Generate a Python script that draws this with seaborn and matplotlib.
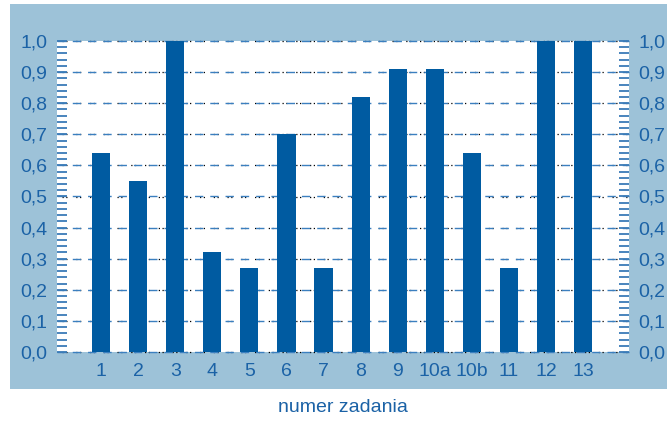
import numpy as np
import pandas as pd
import seaborn as sns
import matplotlib.pyplot as plt
from matplotlib.patches import Rectangle
from matplotlib.ticker import FuncFormatter, MultipleLocator

# data
zadania = ['1', '2', '3', '4', '5', '6', '7', '8', '9', '10a', '10b', '11', '12', '13']
wartosci = [0.64, 0.55, 1.0, 0.32, 0.27, 0.70, 0.27, 0.82, 0.91, 0.91, 0.64, 0.27, 1.0, 1.0]

df = pd.DataFrame({'zadanie': zadania, 'wartosc': wartosci})

BAR = '#005ba1'
TXT = '#1b62a6'
PANEL = '#9dc2d8'

sns.set_style('white')
plt.rcParams['font.family'] = ['Liberation Sans', 'DejaVu Sans']

fig = plt.figure(figsize=(6.67, 4.21), dpi=100)
# light blue panel behind the axes
fig.patches.append(Rectangle((10 / 667, 32 / 421), 657 / 667, 385 / 421,
                             transform=fig.transFigure, facecolor=PANEL,
                             edgecolor='none', zorder=-10))

ax = fig.add_axes([57 / 667, 69 / 421, 572 / 667, 311 / 421])
ax.set_zorder(1)
ax.set_facecolor('white')

# grid: blue dashes with black dots in between
ax.set_axisbelow(True)
ax.grid(axis='y', color='#3b7fbf', linestyle=(0, (6, 5)), linewidth=1.0)
for t in np.arange(0, 1.01, 0.1):
    ax.axhline(t, color='black', linestyle=(7, (1, 2, 1, 7)), linewidth=0.9,
               zorder=0.5, clip_on=False)

sns.barplot(data=df, x='zadanie', y='wartosc', color=BAR, saturation=1,
            width=0.49, errorbar=None, linewidth=0, ax=ax, zorder=2)

ax.set_xlim(-1.19, 14.24)
ax.set_ylim(0, 1.0)
ax.yaxis.set_major_locator(MultipleLocator(0.1))
ax.yaxis.set_minor_locator(MultipleLocator(0.02))
ax.yaxis.set_major_formatter(FuncFormatter(lambda v, p: f"{v:.1f}".replace('.', ',')))
for gl in ax.get_ygridlines():
    gl.set_clip_on(False)

for s in ax.spines.values():
    s.set_visible(False)

ax.tick_params(axis='y', which='both', direction='in', length=7.5, width=1.3,
               color='#3a7bb8', left=True, right=True, labelleft=True,
               labelright=True, labelsize=14, labelcolor=TXT, pad=7)
ax.tick_params(axis='x', length=0, labelsize=14, labelcolor=TXT, pad=8)
ax.set_xlabel('')
ax.set_ylabel('')

fig.text(343 / 667, 14 / 421, 'numer zadania', ha='center', va='center',
         fontsize=14, color=TXT)

fig.savefig('out.png', dpi=100)
